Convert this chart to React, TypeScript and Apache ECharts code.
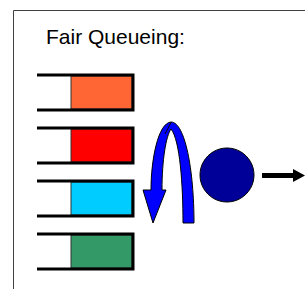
import React, { useEffect, useRef } from "react";
import * as echarts from "echarts";

const titleText = "Fair Queueing:";
const queueColors = ["#FF6633", "#FF0000", "#00CCFF", "#339966"];
const serverColor = "#000099";
const schedulerColor = "#0000FF";

const arrowPath =
  "M194,223 L183,223 C183,185 180,140 171,129 C166,136 162,160 162,190 L166,190 L153,223 L143,190 L151,190 C151,160 158,123 171,122 C185,122 194,170 194,223 Z";

echarts.graphic.registerShape("rrArrow", echarts.graphic.extendPath(arrowPath, {}));

export default function App() {
  const ref = useRef<HTMLDivElement>(null);
  useEffect(() => {
    if (!ref.current) return;
    const chart = echarts.init(ref.current, null, { renderer: "svg" });
    const qTop0 = 75;
    const qGap = 53;
    const qH = 35;
    const qLeft = 37;
    const qRight = 133;
    const fillLeft = 71;
    const elements: any[] = [];
    // frame
    elements.push({
      type: "polyline",
      shape: { points: [[13.5, 289], [13.5, 10.5], [305, 10.5]] },
      style: { stroke: "#404040", lineWidth: 1, fill: "none" },
    });
    elements.push({
      type: "text",
      style: {
        text: titleText,
        x: 46,
        y: 36,
        font: '21px "Liberation Sans", Arial, sans-serif',
        fill: "#000",
        verticalAlign: "middle",
      },
    });
    queueColors.forEach((c, i) => {
      const t = qTop0 + i * qGap;
      elements.push({
        type: "rect",
        shape: { x: fillLeft, y: t + 1, width: qRight - fillLeft - 1, height: qH - 2 },
        style: { fill: c, stroke: "#333", lineWidth: 1 },
      });
      elements.push({
        type: "polyline",
        shape: { points: [[qLeft, t], [qRight, t], [qRight, t + qH], [qLeft, t + qH]] },
        style: { stroke: "#000", lineWidth: 3, fill: "none", lineJoin: "miter" },
      });
    });
    elements.push({
      type: "rrArrow",
      x: 0,
      y: 0,
      style: { fill: schedulerColor, stroke: "#000", lineWidth: 1 },
    });
    elements.push({
      type: "line",
      shape: { x1: 171, y1: 122.5, x2: 165, y2: 134 },
      style: { stroke: "#000", lineWidth: 1 },
    });
    elements.push({
      type: "circle",
      shape: { cx: 227, cy: 175, r: 27 },
      style: { fill: serverColor, stroke: "#000", lineWidth: 1 },
    });
    elements.push({
      type: "line",
      shape: { x1: 262, y1: 175.5, x2: 295, y2: 175.5 },
      style: { stroke: "#000", lineWidth: 5 },
    });
    elements.push({
      type: "polygon",
      shape: { points: [[293, 169], [305, 175.5], [293, 182]] },
      style: { fill: "#000" },
    });
    chart.setOption({ animation: false, graphic: { elements } });
    return () => chart.dispose();
  }, []);
  return (
    <div
      ref={ref}
      style={{ position: "absolute", left: 0, top: 0, width: 305, height: 289, background: "#fff" }}
    />
  );
}
